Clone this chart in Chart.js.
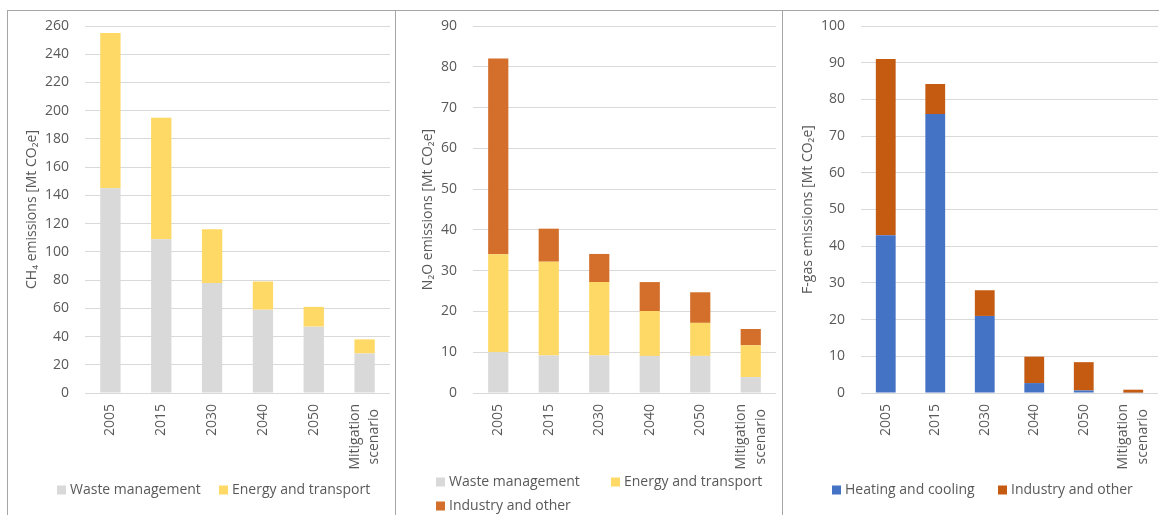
<!DOCTYPE html>
<html>
<head>
<meta charset="utf-8">
<script src="https://cdn.jsdelivr.net/npm/chart.js@4"></script>
<style>
  html, body { margin: 0; padding: 0; background: #fff; }
  body { width: 1159px; height: 515px; position: relative; overflow: hidden; }
  .ln { position: absolute; background: #a6a6a6; }
  canvas { position: absolute; }
</style>
</head>
<body>
<div class="ln" style="left:7px;top:10px;width:1152px;height:1px"></div>
<div class="ln" style="left:7px;top:10px;width:1px;height:505px"></div>
<div class="ln" style="left:395px;top:10px;width:1px;height:505px"></div>
<div class="ln" style="left:782px;top:10px;width:1px;height:505px"></div>
<canvas id="c1" style="left:8px;top:11px;width:387px;height:504px" width="387" height="504"></canvas>
<canvas id="c2" style="left:396px;top:11px;width:386px;height:504px" width="386" height="504"></canvas>
<canvas id="c3" style="left:783px;top:11px;width:376px;height:504px" width="376" height="504"></canvas>
<script>
// ---- data ----
const categories = ['2005', '2015', '2030', '2040', '2050', ['Mitigation', 'scenario']];

const ch4Waste  = [145, 109, 78, 59, 47, 28];
const ch4Energy = [110, 86, 38, 20, 14, 10];

const n2oWaste    = [10, 9.2, 9.2, 9.1, 9.1, 3.9];
const n2oEnergy   = [24, 23, 18, 11, 8.1, 7.8];
const n2oIndustry = [48, 8.1, 6.9, 7.1, 7.5, 4.0];

const fgasHeating  = [43, 76, 21, 2.7, 0.7, 0.1];
const fgasIndustry = [48, 8.2, 7, 7.2, 7.7, 0.8];

const ch4Ticks  = { max: 260, step: 20 };
const n2oTicks  = { max: 90, step: 10 };
const fgasTicks = { max: 100, step: 10 };

// ---- styling ----
const FONT = "'Open Sans', 'Noto Sans', sans-serif";
const TXT = '#595959';
const GRID = '#d9d9d9';
const C_WASTE = '#d9d9d9', C_ENERGY = '#ffd966', C_IND_N2O = '#d46f2b',
      C_HEAT = '#4472c4', C_IND_F = '#c55a11';

// legend drawn in rows (Excel-like layout)
const rowLegend = {
  id: 'rowLegend',
  afterDraw(chart, args, opts) {
    const ctx = chart.ctx;
    ctx.save();
    ctx.font = '14px ' + FONT;
    ctx.textBaseline = 'middle';
    ctx.textAlign = 'left';
    chart.data.datasets.forEach((ds, i) => {
      const p = opts.pos[i];
      ctx.fillStyle = ds.backgroundColor;
      ctx.fillRect(p[0], p[1] - 4.5, 9, 9);
      ctx.fillStyle = TXT;
      ctx.fillText(ds.label, p[0] + 13, p[1] + 0.5);
    });
    ctx.restore();
  }
};

// center multi-line rotated category labels around their tick
const centerMultiLine = {
  id: 'centerMultiLine',
  beforeDraw(chart) {
    const s = chart.scales.x;
    const items = s.getLabelItems();
    const ctx = chart.ctx;
    items.forEach(it => {
      if (Array.isArray(it.label) && it.label.length > 1 && !it._centered) {
        const f = it.font;
        ctx.save();
        ctx.font = f.string;
        const w = Math.max(...it.label.map(t => ctx.measureText(t).width));
        ctx.restore();
        it.options.translation[0] -= (it.label.length - 1) * f.lineHeight / 2;
        it.options.translation[1] += w / 2;
        it.options.textAlign = 'center';
        it._centered = true;
      }
    });
  }
};

function makeChart(id, datasets, ticks, title, cfg) {
  return new Chart(document.getElementById(id), {
    type: 'bar',
    data: { labels: categories, datasets },
    plugins: [rowLegend, centerMultiLine],
    options: {
      responsive: false,
      animation: false,
      devicePixelRatio: 1,
      layout: { padding: { top: 15, right: cfg.right, bottom: 38, left: 0 } },
      datasets: { bar: { barPercentage: 0.4, categoryPercentage: 1.0, borderWidth: 0 } },
      plugins: {
        legend: { display: false },
        tooltip: { enabled: false },
        rowLegend: { pos: cfg.legend }
      },
      scales: {
        x: {
          stacked: true,
          grid: { display: false, drawTicks: false },
          border: { display: false },
          ticks: {
            color: TXT, font: { family: FONT, size: 14, lineHeight: 1.4 }, padding: 11,
            maxRotation: 90, minRotation: 90, autoSkip: false
          },
          afterFit(s) { s.height = 84; s.paddingLeft = 0; s.paddingRight = 0; }
        },
        y: {
          stacked: true,
          min: 0, max: ticks.max,
          grid: { color: GRID, lineWidth: 1, drawTicks: false },
          border: { display: false },
          ticks: {
            stepSize: ticks.step, color: TXT, padding: 16,
            font: { family: FONT, size: 14 }
          },
          title: {
            display: true, text: title, color: TXT,
            font: { family: FONT, size: 14 },
            padding: { top: cfg.titlePad, bottom: 0 }
          },
          afterFit(s) { s.width = cfg.axisW; s.paddingTop = 0; s.paddingBottom = 0; }
        }
      }
    }
  });
}

makeChart('c1', [
  { label: 'Waste management', data: ch4Waste, backgroundColor: C_WASTE },
  { label: 'Energy and transport', data: ch4Energy, backgroundColor: C_ENERGY }
], ch4Ticks, 'CH\u2084 emissions [Mt CO\u2082e]',
  { right: 5, axisW: 77, titlePad: 16, legend: [[49, 479], [211, 479]] });

makeChart('c2', [
  { label: 'Waste management', data: n2oWaste, backgroundColor: C_WASTE },
  { label: 'Energy and transport', data: n2oEnergy, backgroundColor: C_ENERGY },
  { label: 'Industry and other', data: n2oIndustry, backgroundColor: C_IND_N2O }
], n2oTicks, 'N\u2082O emissions [Mt CO\u2082e]',
  { right: 6, axisW: 77, titlePad: 24, legend: [[40, 471], [215, 471], [40, 495]] });

makeChart('c3', [
  { label: 'Heating and cooling', data: fgasHeating, backgroundColor: C_HEAT },
  { label: 'Industry and other', data: fgasIndustry, backgroundColor: C_IND_F }
], fgasTicks, 'F-gas emissions [Mt CO\u2082e]',
  { right: 1, axisW: 78, titlePad: 17, legend: [[49, 479], [215, 479]] });
</script>
</body>
</html>
